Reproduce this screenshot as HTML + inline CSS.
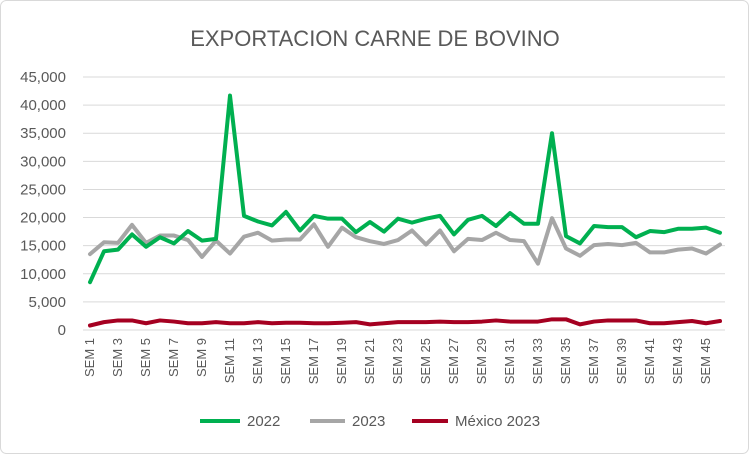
<!DOCTYPE html>
<html><head><meta charset="utf-8"><style>
body{margin:0;background:#fff;}
svg{display:block;font-family:"Liberation Sans",sans-serif;}
</style></head><body>
<svg width="749" height="454" id="c">
<rect x="0.5" y="0.5" width="748" height="453" rx="6" fill="#fff" stroke="#d9d9d9"/>
<text x="375" y="46" text-anchor="middle" font-size="22" fill="#595959">EXPORTACION CARNE DE BOVINO</text>
<g id="grid"></g><g id="yl"></g><g id="xl"></g><g id="lines"></g>
<g font-size="15" fill="#595959">
<line x1="200" y1="421" x2="240" y2="421" stroke="#00b050" stroke-width="4"/>
<text x="247" y="426">2022</text>
<line x1="310" y1="421" x2="345" y2="421" stroke="#a6a6a6" stroke-width="4"/>
<text x="352" y="426">2023</text>
<line x1="412" y1="421" x2="448" y2="421" stroke="#a50021" stroke-width="4"/>
<text x="455" y="426">México 2023</text>
</g>
</svg>
<script>
const s2022=[8500,14000,14300,17000,14800,16500,15400,17600,15900,16200,41700,20300,19300,18600,21000,17700,20300,19800,19800,17400,19200,17500,19800,19100,19800,20300,17000,19600,20300,18500,20800,18900,18900,35000,16700,15400,18500,18300,18300,16500,17600,17400,18000,18000,18200,17300];
const s2023=[13500,15600,15500,18700,15500,16800,16800,16000,13000,15900,13600,16600,17300,15900,16100,16100,18800,14800,18200,16500,15800,15300,16000,17700,15200,17700,14000,16200,16000,17300,16000,15800,11800,19900,14500,13200,15100,15300,15100,15500,13800,13800,14300,14500,13600,15200];
const sMex=[800,1400,1700,1700,1200,1700,1500,1200,1200,1400,1200,1200,1400,1200,1300,1300,1200,1200,1300,1400,1000,1200,1400,1400,1400,1500,1400,1400,1500,1700,1500,1500,1500,1900,1900,1000,1500,1700,1700,1700,1200,1200,1400,1600,1200,1600];
const yTicks=[0,5000,10000,15000,20000,25000,30000,35000,40000,45000];
const cats=s2022.map((_,i)=>'SEM '+(i+1));
const NS='http://www.w3.org/2000/svg';
const y=v=>330-v*(253/45000);
const x=i=>90+i*14;
function mk(t,a,p){const e=document.createElementNS(NS,t);for(const k in a)e.setAttribute(k,a[k]);p.appendChild(e);return e;}
const grid=document.getElementById('grid'),yl=document.getElementById('yl'),xl=document.getElementById('xl'),lines=document.getElementById('lines');
yTicks.forEach(v=>{
 const l=mk('line',{x1:83,x2:725,y1:y(v),y2:y(v),stroke:'#d9d9d9','stroke-width':1},grid);
 
 
 const t=mk('text',{x:66,y:y(v)+5,'text-anchor':'end','font-size':15,fill:'#595959'},yl);
 t.textContent=v.toLocaleString('en-US');
 
 
});
cats.forEach((c,i)=>{
 if(i%2)return;
 const t=mk('text',{transform:`translate(${x(i)+4},338) rotate(-90)`,'text-anchor':'end','font-size':13,fill:'#595959'},xl);
 t.textContent=c;
 
 
});
[[s2023,'#a6a6a6','line-2023'],[sMex,'#a50021','line-mexico-2023'],[s2022,'#00b050','line-2022']].forEach(([d,col,n])=>{
 const p=mk('polyline',{points:d.map((v,i)=>x(i)+','+y(v)).join(' '),fill:'none',stroke:col,'stroke-width':4,'stroke-linejoin':'round','stroke-linecap':'round'},lines);
 
 
});
</script>
</body></html>
